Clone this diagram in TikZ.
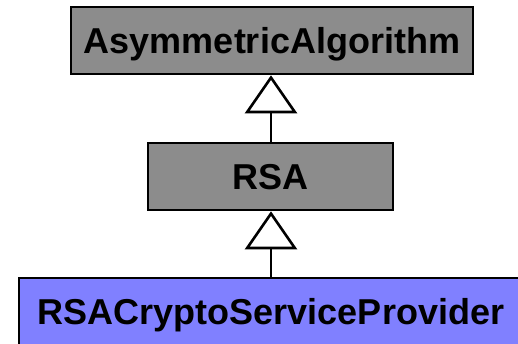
\documentclass[tikz,border=0pt]{standalone}
\usepackage{fontspec}
\setmainfont{Liberation Sans}
\usetikzlibrary{arrows.meta}
\definecolor{classgray}{RGB}{140,140,140}
\definecolor{classblue}{RGB}{128,128,255}
\tikzset{
  classbox/.style={draw=black, line width=2.6pt, rectangle, inner sep=0pt,
    font=\fontsize{36}{40}\selectfont\bfseries, text height=25.8pt, text depth=0pt,
    minimum height=67pt},
  inherit/.style={line width=2pt,
    -{Triangle[open, length=38pt, width=52pt, line width=2.6pt]}}
}
\begin{document}
\begin{tikzpicture}[x=1pt, y=-1pt]
  \useasboundingbox (0,0) rectangle (518,343);
  \clip (0,0) rectangle (518,343);
  \fill[white] (0,0) rectangle (518,343);
  \node[classbox, fill=classgray, minimum width=402pt] (algo) at (272,40.5) {AsymmetricAlgorithm};
  \node[classbox, fill=classgray, minimum width=245pt] (rsa) at (270.5,176.5) {RSA};
  \node[classbox, fill=classblue, minimum width=504pt] (csp) at (271,311.5) {RSACryptoServiceProvider};
  \draw[inherit] (rsa.north -| 271,0) -- (algo.south -| 271,0);
  \draw[inherit] (csp.north -| 271,0) -- (rsa.south -| 271,0);
\end{tikzpicture}
\end{document}
